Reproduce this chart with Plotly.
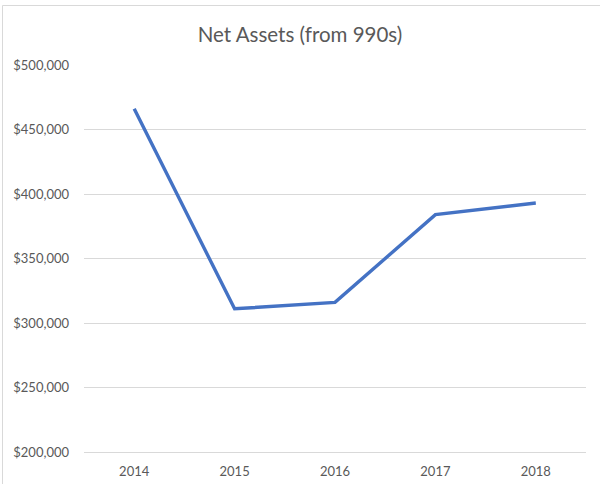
import plotly.graph_objects as go

years = ["2014", "2015", "2016", "2017", "2018"]
net_assets = [466000, 311000, 316000, 384000, 393000]
y_ticks = [200000, 250000, 300000, 350000, 400000, 450000, 500000]
y_tick_labels = ["$200,000", "$250,000", "$300,000", "$350,000", "$400,000", "$450,000", "$500,000"]

FONT = "Lato, 'Open Sans', sans-serif"
TXT = "#595959"

fig = go.Figure()
fig.add_trace(go.Scatter(
    x=years, y=net_assets, mode="lines",
    line=dict(color="#4472C4", width=3.4),
    hoverinfo="x+y",
))

fig.update_layout(
    width=600, height=484,
    margin=dict(l=84, r=14, t=65, b=32),
    paper_bgcolor="white", plot_bgcolor="white",
    showlegend=False,
    title=dict(text="Net Assets (from 990s)", x=0.5, xanchor="center",
               y=1 - 35 / 484, yanchor="middle",
               font=dict(family=FONT, size=20.5, color=TXT)),
    font=dict(family=FONT, color=TXT),
    xaxis=dict(type="category", range=[-0.5, 4.5], automargin=False,
               showgrid=False, zeroline=False,
               showline=True, linecolor="#D9D9D9", linewidth=1,
               ticks="", tickfont=dict(size=13, color=TXT),
               ticklabelstandoff=7),
    yaxis=dict(range=[200000, 500000], tickvals=y_ticks, ticktext=y_tick_labels,
               automargin=False,
               showgrid=True, gridcolor="#D9D9D9", gridwidth=1,
               zeroline=False, showline=False, ticks="",
               tickfont=dict(size=13, color=TXT),
               ticklabelstandoff=14),
    shapes=[dict(type="rect", xref="paper", yref="paper",
                 x0=(2.5 - 84) / 502, x1=(610 - 84) / 502,
                 y0=(452 - 495) / 387, y1=(452 - 5.5) / 387,
                 line=dict(color="#D9D9D9", width=1), fillcolor="rgba(0,0,0,0)",
                 layer="below")],
)

fig.write_html("out.html", config={"displayModeBar": False},
               post_script="document.body.style.margin='0';document.body.style.overflow='hidden';")
